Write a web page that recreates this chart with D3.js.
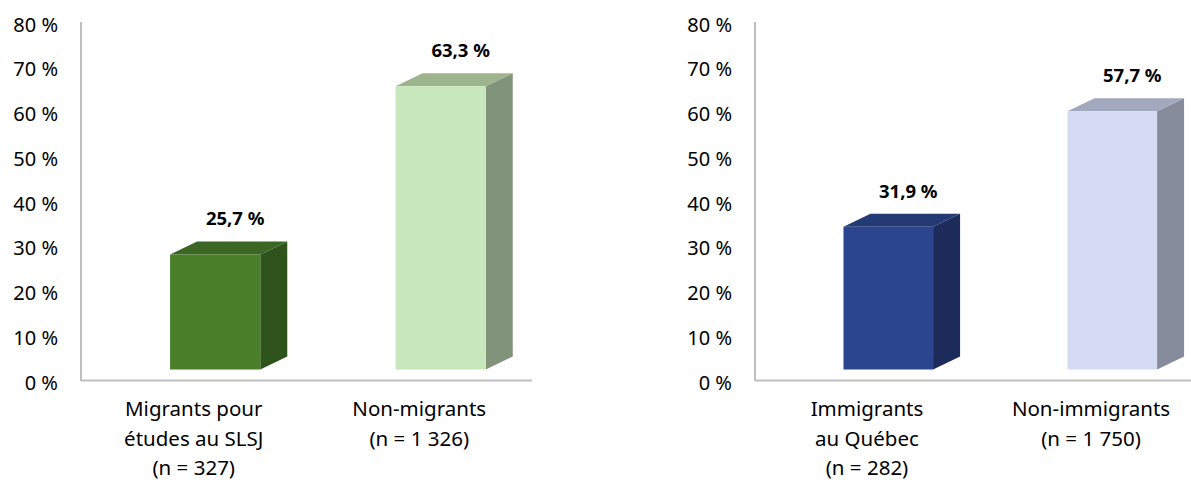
<!DOCTYPE html>
<html>
<head>
<meta charset="utf-8">
<script src="https://cdn.jsdelivr.net/npm/d3@7"></script>
<style>
  body { margin: 0; background: #fff; }
  svg { display: block; font-family: "Noto Sans", sans-serif; }
</style>
</head>
<body>
<svg width="1191" height="480"></svg>
<script>
// chart values
const leftCategories = [["Migrants pour", "études au SLSJ", "(n = 327)"], ["Non-migrants", "(n = 1 326)"]];
const leftValues = [25.7, 63.3];
const rightCategories = [["Immigrants", "au Québec", "(n = 282)"], ["Non-immigrants", "(n = 1 750)"]];
const rightValues = [31.9, 57.7];
const tickValues = [0, 10, 20, 30, 40, 50, 60, 70, 80];
const leftColors = [
  { front: "#4a7f2a", top: "#3b6624", side: "#2f531c" },
  { front: "#c8e7bc", top: "#9db48f", side: "#81937a" }
];
const rightColors = [
  { front: "#2b468e", top: "#243a75", side: "#1d2b5a" },
  { front: "#d4dbf2", top: "#a2a8bd", side: "#878c9c" }
];

const svg = d3.select("svg");

const depthX = 27, depthY = 13;   // 3D offset of the bars
const frontShift = 13;            // front face sits above the floor line

function drawPanel(x0, x1, lineEnd, categories, values, colors) {
  const g = svg.append("g");

  const y = d3.scaleLinear().domain([0, 80]).range([382.5, 24.5]);
  const x = d3.scaleBand().domain(d3.range(values.length)).range([x0, x1]);
  const bw = x.bandwidth();

  // axis lines
  g.append("line")
    .attr("x1", x0).attr("x2", x0)
    .attr("y1", 22).attr("y2", 381)
    .attr("stroke", "#bfbfbf").attr("stroke-width", 2);
  g.append("line")
    .attr("x1", x0).attr("x2", lineEnd)
    .attr("y1", 380.5).attr("y2", 380.5)
    .attr("stroke", "#bfbfbf").attr("stroke-width", 2);

  // tick labels
  g.selectAll(".tick")
    .data(tickValues)
    .enter().append("text")
    .attr("x", x0 - 23)
    .attr("y", d => y(d))
    .attr("dy", "0.36em")
    .attr("text-anchor", "end")
    .style("font-size", "20px")
    .attr("fill", "#000")
    .text(d => d + " %");

  values.forEach((v, i) => {
    const left = x(i) + bw * 0.395;
    const right = x(i) + bw * 0.795;
    const top = y(v) - frontShift;
    const bottom = y(0) - frontShift;
    const c = colors[i];

    // side face
    g.append("path")
      .attr("d", `M${right},${top}L${right + depthX},${top - depthY}L${right + depthX},${bottom - depthY}L${right},${bottom}Z`)
      .attr("fill", c.side);
    // top face
    g.append("path")
      .attr("d", `M${left},${top}L${left + depthX},${top - depthY}L${right + depthX},${top - depthY}L${right},${top}Z`)
      .attr("fill", c.top);
    // front face
    g.append("rect")
      .attr("x", left).attr("y", top)
      .attr("width", right - left).attr("height", bottom - top)
      .attr("fill", c.front);

    // value label
    g.append("text")
      .attr("x", (left + right) / 2 + 20)
      .attr("y", top - depthY - 16)
      .attr("text-anchor", "middle")
      .style("font-size", "18.5px")
      .style("font-weight", "bold")
      .attr("fill", "#000")
      .text(d3.format(".1f")(v).replace(".", ",") + " %");

    // category label
    const lab = g.append("text")
      .attr("text-anchor", "middle")
      .style("font-size", "20.5px")
      .attr("fill", "#000");
    categories[i].forEach((line, k) => {
      lab.append("tspan")
        .attr("x", x(i) + bw / 2)
        .attr("y", 416 + k * 29.5)
        .text(line);
    });
  });
}

drawPanel(81, 532, 532, leftCategories, leftValues, leftColors);
drawPanel(755, 1203, 1191, rightCategories, rightValues, rightColors);
</script>
</body>
</html>
